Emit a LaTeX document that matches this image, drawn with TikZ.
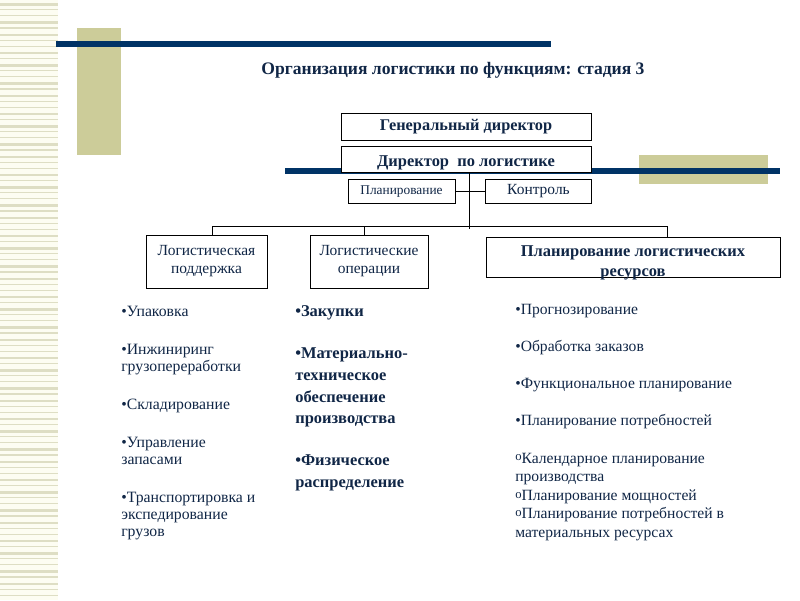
\documentclass[tikz,border=0pt]{standalone}
\usepackage{fontspec}
\setmainfont{Liberation Serif}
\definecolor{navy}{RGB}{0,51,102}
\definecolor{sand}{RGB}{204,204,153}
\definecolor{stripe}{RGB}{222,222,196}
\definecolor{cream}{RGB}{253,253,242}
\definecolor{ink}{RGB}{16,38,70}
\newcommand\hollow{{\fontsize{9}{9}\selectfont\raisebox{0.35ex}{o}}}
\tikzset{
  box/.style={draw, fill=white, inner sep=0pt, text=ink, line width=0.6pt},
  list/.style={anchor=north west, align=left, inner sep=0pt, text=ink},
  link/.style={line width=0.6pt},
}

\begin{document}
\begin{tikzpicture}[x=0.025cm, y=-0.025cm]
\useasboundingbox (0,0) rectangle (800,600);
% striped band on the left
\fill [cream] (0,0) rectangle (58,600);
\foreach \i in {0,...,97} {
  \pgfmathsetmacro\t{mod(\i*7,5) < 2 ? 2.6 : 1.1}
  \fill [stripe] (0,6.1*\i+3) rectangle (58,6.1*\i+3+\t);
}
% bars and blocks
\fill [sand] (77,28) rectangle (121,155);
\fill [navy] (56,41) rectangle (551,47);
\fill [sand] (639,155) rectangle (768,184);
\fill [navy] (285,168) rectangle (780,174);
\node [font=\fontsize{12.5}{15}\selectfont\bfseries, text=ink] (title) at (453,70) {Организация логистики по функциям: стадия 3};

% top of the chart
\node [box, minimum width=6.25cm, minimum height=0.675cm, font=\fontsize{11.6}{14}\selectfont\bfseries] (gen) at (466,126.5) {Генеральный директор};
\node [box, minimum width=6.25cm, minimum height=0.65cm, text depth=0pt, font=\fontsize{11.7}{14}\selectfont\bfseries] (dir) at (466,159.5) {\raisebox{-2.5pt}{Директор\ \ по логистике}};
\node [box, minimum width=2.675cm, minimum height=0.6cm, font=\fontsize{9.5}{11}\selectfont] (plan) at (401.5,191.5) {Планирование};
\node [box, minimum width=2.65cm, minimum height=0.6cm, font=\fontsize{11}{13}\selectfont] (ctrl) at (538.5,191.5) {Контроль};

% three departments
\node [box, minimum width=3.025cm, minimum height=1.325cm, align=center, font=\fontsize{11}{12.8}\selectfont] (support) at (206.5,261.5) {Логистическая\\поддержка};
\node [box, minimum width=2.95cm, minimum height=1.325cm, align=center, font=\fontsize{11}{12.8}\selectfont] (ops) at (369,261.5) {Логистические\\операции};
\node [box, minimum width=7.35cm, minimum height=1cm] (res) at (633,257) {};
\node [font=\fontsize{11.7}{14}\selectfont\bfseries, text=ink, align=center] (restext) at (633,263) {Планирование логистических\\ресурсов};

% connectors
\coordinate (hub) at (469,226);
\coordinate (hubend) at (469,229);
\coordinate (lft) at (212,226);
\coordinate (mid) at (364,226);
\coordinate (rgt) at (667,226);
\draw [link] (dir.south -| hub) -- (hubend);
\draw [link] (plan.east) -- (ctrl.west);
\draw [link] (lft |- support.north) -- (lft) -- (rgt) -- (rgt |- res.north);
\draw [link] (mid) -- (mid |- ops.north);

% lists of functions
\node [list, font=\fontsize{11.2}{12.1}\selectfont] (supportlist) at (121,306) {•Упаковка\\[14.9pt]•Инжиниринг\\грузопереработки\\[14.9pt]•Складирование\\[14.9pt]•Управление\\запасами\\[14.9pt]•Транспортировка и\\экспедирование\\грузов};
\node [list, font=\fontsize{11.7}{15.4}\selectfont\bfseries] (opslist) at (295,305) {•Закупки\\[14.9pt]•Материально-\\техническое\\обеспечение\\производства\\[14.2pt]•Физическое\\распределение};
\node [list, font=\fontsize{11.1}{13.2}\selectfont] (reslist) at (515,304) {•Прогнозирование\\[13.2pt]•Обработка заказов\\[13.2pt]•Функциональное планирование\\[13.2pt]•Планирование потребностей\\[13.2pt]\hollow Календарное планирование\\производства\\\hollow Планирование мощностей\\\hollow Планирование потребностей в\\материальных ресурсах};
\end{tikzpicture}
\end{document}
